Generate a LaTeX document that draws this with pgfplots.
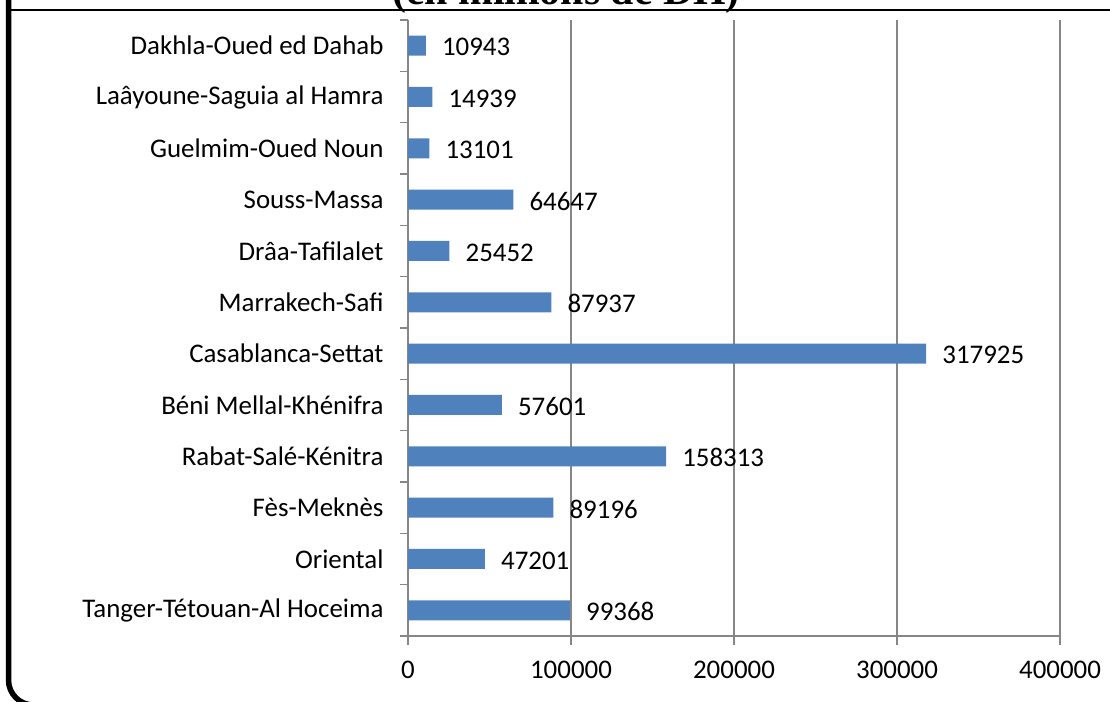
\documentclass[border=0pt]{standalone}
\usepackage{fontspec}
\setmainfont{Carlito}
\newfontfamily\titlefont{Liberation Serif}
\usepackage{pgfplots}
\pgfplotsset{compat=1.18}
\definecolor{axisgray}{RGB}{134,134,134}
\definecolor{barblue}{RGB}{79,129,189}
\begin{document}
\begin{tikzpicture}[x=1bp,y=1bp]
\useasboundingbox (0,0) rectangle (1110,702);
% frame pieces
\draw[line width=5.5bp, rounded corners=25bp] (8.5,720) -- (8.5,-3) -- (300,-3);
\draw[line width=1.6bp] (8.5,692) -- (1120,692);
\node[anchor=base, inner sep=0pt, font=\titlefont\bfseries\fontsize{42}{46}\selectfont] at (566,697.5) {(en millions de DH)};
\begin{axis}[
  at={(408bp,66bp)}, anchor=south west,
  scale only axis, width=652bp, height=616bp,
  xbar, bar width=20bp,
  xmin=0, xmax=400000, ymin=-0.5, ymax=11.5,
  axis x line*=bottom, axis y line*=left,
  axis line style={-, draw=axisgray, line width=1.2bp},
  xtick={0,100000,200000,300000,400000},
  scaled x ticks=false,
  xmajorgrids, grid style={draw=axisgray, line width=1.2bp},
  tick align=outside,
  x tick style={draw=axisgray, line width=1.2bp},
  major tick length=9bp,
  ytick={0,...,11},
  y tick style={draw=none},
  yticklabels={Tanger-Tétouan-Al Hoceima, Oriental\ , Fès-Meknès, Rabat-Salé-Kénitra, Béni Mellal-Khénifra, Casablanca-Settat, Marrakech-Safi, Drâa-Tafilalet, Souss-Massa, Guelmim-Oued Noun, Laâyoune-Saguia al Hamra, Dakhla-Oued ed Dahab},
  extra y ticks={-0.5,0.5,...,11.5},
  extra y tick labels={},
  extra y tick style={y tick style={draw=axisgray, line width=1.2bp}, major tick length=8bp, ymajorgrids=false},
  /pgf/number format/.cd, fixed, precision=0, 1000 sep={}, assume math mode=true, /pgfplots/.cd,
  ticklabel style={font=\fontsize{27}{31}\selectfont},
  xticklabel style={/pgf/number format/fixed, /pgf/number format/precision=0, /pgf/number format/1000 sep={}, /pgf/number format/assume math mode=true, yshift=-13bp},
  yticklabel style={anchor=east, xshift=-12bp},
  nodes near coords,
  every node near coord/.append style={font=\fontsize{27}{31}\selectfont, anchor=west, inner sep=0pt, xshift=16bp, yshift=-1.5bp, /pgf/number format/fixed, /pgf/number format/precision=0, /pgf/number format/1000 sep={}, /pgf/number format/assume math mode=true},
]
\addplot[fill=barblue, draw=none] coordinates {
  (99368,0) (47201,1) (89196,2) (158313,3) (57601,4) (317925,5)
  (87937,6) (25452,7) (64647,8) (13101,9) (14939,10) (10943,11)
};
\end{axis}
\end{tikzpicture}
\end{document}
